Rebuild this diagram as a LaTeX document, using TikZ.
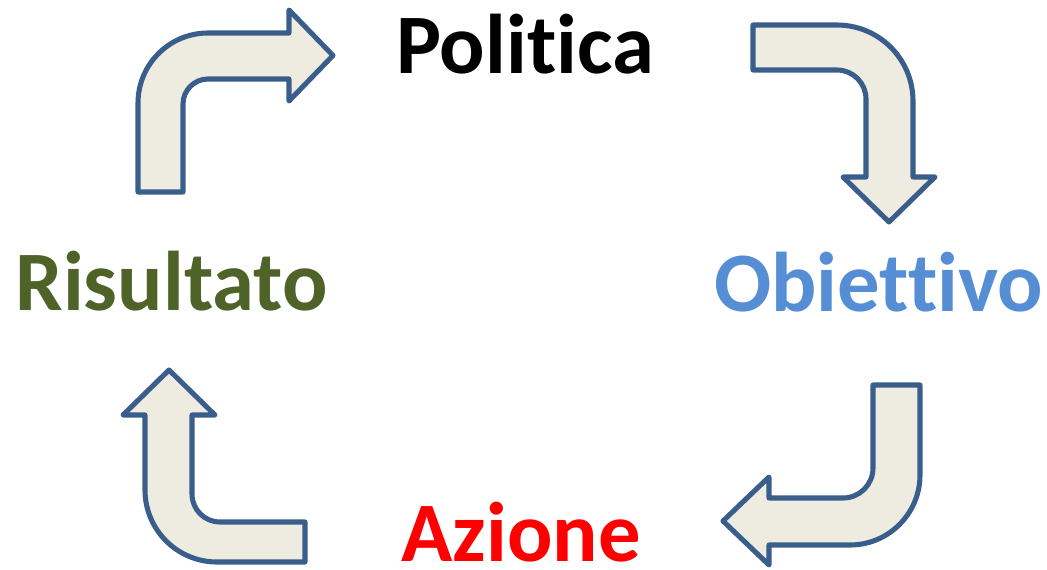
\documentclass[tikz,border=0pt]{standalone}
\usepackage{fontspec}
\setmainfont[Ligatures=NoCommon]{Carlito}
\definecolor{arrline}{HTML}{3A5E8C}
\definecolor{arrfill}{HTML}{EEECE1}
\definecolor{risgreen}{HTML}{4F6228}
\definecolor{obiblue}{HTML}{558ED5}
\definecolor{azred}{HTML}{FF0000}
\tikzset{
  bentarrow/.style={draw=arrline, fill=arrfill, line width=3.8pt, line join=round},
  label/.style={font=\fontsize{63.5}{70}\selectfont\bfseries, inner sep=0pt, anchor=base}
}
\begin{document}
\begin{tikzpicture}[x=0.75pt,y=-0.75pt]
\useasboundingbox (0,0) rectangle (1047,569);
% top-left arrow
\path[bentarrow] (138,192) -- (138,103) .. controls (138,64.4) and (169.3,33) .. (208,33) -- (289,33) -- (289,10) -- (333,55.5) -- (289,101) -- (289,79) -- (208,79) .. controls (194.2,79) and (183,90.2) .. (183,104) -- (183,192) -- cycle;
% top-right arrow
\path[bentarrow] (753,25) -- (837,25) .. controls (879,25) and (913,59) .. (913,101) -- (913,177) -- (935,177) -- (889,222) -- (843,177) -- (866,177) -- (866,99) .. controls (866,83) and (853,70) .. (837,70) -- (753,70) -- cycle;
% bottom-right arrow
\path[bentarrow] (873,385) -- (920,385) -- (920,475) .. controls (920,513.6) and (888.6,545) .. (850,545) -- (769,545) -- (769,565) -- (723,521) -- (769,477) -- (769,498) -- (843,498) .. controls (859.6,498) and (873,484.6) .. (873,468) -- cycle;
% bottom-left arrow
\path[bentarrow] (305,522) -- (305,562) -- (217,562) .. controls (177.2,562) and (145,529.8) .. (145,490) -- (145,415) -- (123,415) -- (169,370) -- (215,415) -- (192,415) -- (192,494) .. controls (192,509.5) and (204.5,522) .. (220,522) -- cycle;
% labels
\node[label, text=black] (politica) at (525,73) {Politica};
\node[label, text=obiblue] (obiettivo) at (878.5,311) {Obiettivo};
\node[label, text=azred, text depth=0pt] (azione) at (521,561) {Azione};
\node[label, text=risgreen] (risultato) at (171.5,310) {Risultato};
\end{tikzpicture}
\end{document}
